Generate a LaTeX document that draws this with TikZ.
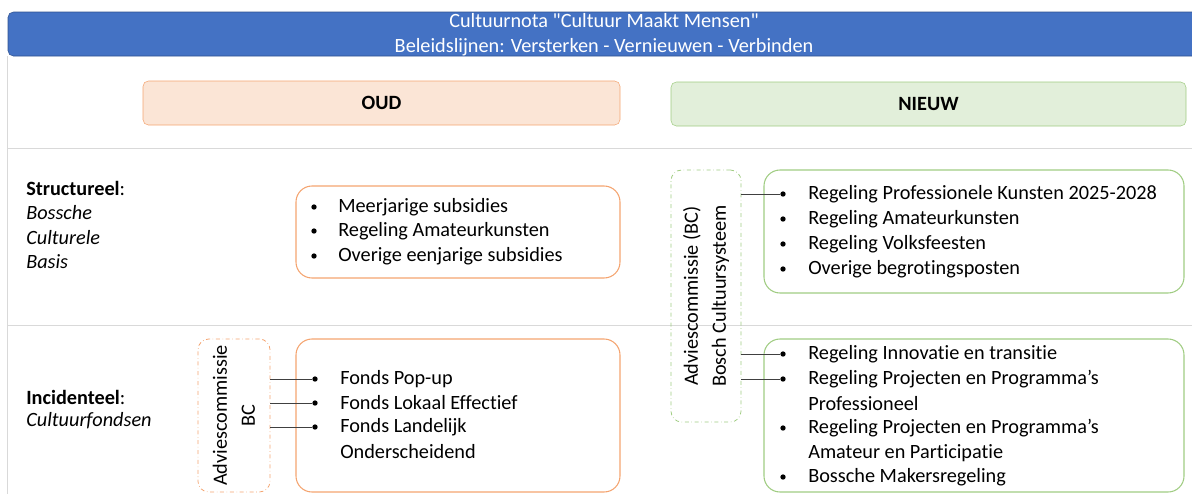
\documentclass[tikz,border=0pt]{standalone}
\usepackage{fontspec}
\setmainfont{Carlito}[Ligatures={TeXOff,NoCommon}]
\usetikzlibrary{fit}
\definecolor{hdrblue}{RGB}{68,114,196}
\definecolor{hdredge}{RGB}{47,82,143}
\definecolor{oudline}{RGB}{244,164,112}
\definecolor{oudfill}{RGB}{251,229,214}
\definecolor{nwline}{RGB}{160,204,130}
\definecolor{nwfill}{RGB}{226,239,218}
\definecolor{rule}{RGB}{217,217,217}
\begin{document}
\begin{tikzpicture}
[x=0.75pt,y=-0.75pt,font=\fontsize{15.2}{18}\selectfont,
 hdr/.style={draw=hdredge,fill=hdrblue,rounded corners=4pt,inner sep=0pt},
 kop/.style={draw,rounded corners=4pt,inner sep=0pt},
 lst/.style={draw,rounded corners=12pt,inner sep=0pt,line width=0.8pt},
 adv/.style={draw,dash dot,rounded corners=8pt,inner sep=0pt,line width=0.6pt},
 dot/.style={circle,fill,inner sep=0pt,minimum size=4pt},
 itm/.style={anchor=west,inner sep=0pt},
 lbl/.style={anchor=west,inner sep=0pt},
 lijn/.style={draw=black!75,line width=0.6pt}]
\clip (0,0) rectangle (1192,494);
% kop
\node[hdr,fit={(8,12) (1200,56)}] (hdr) {};
\node[text=white,align=center,font=\fontsize{15.2}{19}\selectfont] (titel) at (604,35) {Cultuurnota "Cultuur Maakt Mensen"\\Beleidslijnen: Versterken - Vernieuwen - Verbinden};
\draw[rule] (7,56) -- (7,494);
\draw[rule] (7,148) -- (1192,148);
\draw[rule] (7,325) -- (1192,325);
\node[kop,draw=oudline,fill=oudfill,fit={(143,81) (620,125)}] (oud) {};
\node[font=\fontsize{15.2}{18}\selectfont\bfseries] at (oud) {OUD};
\node[kop,draw=nwline,fill=nwfill,fit={(671,82) (1186,126)}] (nieuw) {};
\node[font=\fontsize{15.2}{18}\selectfont\bfseries] at (nieuw) {NIEUW};
% rijen
\node[lbl] (str) at (26,188) {\textbf{Structureel}:};
\node[lbl] (str1) at (26,213) {\textit{Bossche}};
\node[lbl] (str2) at (26,238) {\textit{Culturele}};
\node[lbl] (str3) at (26,262) {\textit{Basis}};
\node[lbl] (inc) at (26,397) {\textbf{Incidenteel}:};
\node[lbl] (inc1) at (26,421) {\textit{Cultuurfondsen}};
% oud structureel
\node[lst,draw=oudline,fit={(296,186) (620,278)}] (os) {};
\node[dot] (os1) at (314,207) {};\node[itm] at (338,207) {Meerjarige subsidies};
\node[dot] (os2) at (314,231) {};\node[itm] at (338,231) {Regeling Amateurkunsten};
\node[dot] (os3) at (314,256) {};\node[itm] at (338,256) {Overige eenjarige subsidies};
% oud incidenteel
\node[adv,draw=oudline,fit={(198,339) (270,492)}] (advo) {};
\node[rotate=90,align=center,font=\fontsize{15.2}{21}\selectfont] at (advo) {Adviescommissie\\BC};
\node[lst,draw=oudline,fit={(296,339) (620,492)}] (oi) {};
\node[dot] (oi1) at (315,379) {};\node[itm] at (340,379) {Fonds Pop-up};
\node[dot] (oi2) at (315,403) {};\node[itm] at (340,403) {Fonds Lokaal Effectief};
\node[dot] (oi3) at (315,427) {};\node[itm] at (340,427) {Fonds Landelijk};
\node[itm] at (340,452) {Onderscheidend};
\draw[lijn] (advo.east |- oi1) -- (oi1);
\draw[lijn] (advo.east |- oi2) -- (oi2);
\draw[lijn] (advo.east |- oi3) -- (oi3);
% nieuw
\node[adv,draw=nwline,fit={(671,170) (741,422)}] (advn) {};
\node[rotate=90,align=center,font=\fontsize{15.2}{21}\selectfont] at (advn) {Adviescommissie (BC)\\Bosch Cultuursysteem};
\node[lst,draw=nwline,fit={(764,170) (1184,293)}] (ns) {};
\node[dot] (ns1) at (783,194) {};\node[itm] at (808,194) {Regeling Professionele Kunsten 2025-2028};
\node[dot] (ns2) at (783,219) {};\node[itm] at (808,219) {Regeling Amateurkunsten};
\node[dot] (ns3) at (783,244) {};\node[itm] at (808,244) {Regeling Volksfeesten};
\node[dot] (ns4) at (783,269) {};\node[itm] at (808,269) {Overige begrotingsposten};
\node[lst,draw=nwline,fit={(764,339) (1184,492)}] (ni) {};
\node[dot] (ni1) at (783,354) {};\node[itm] at (808,354) {Regeling Innovatie en transitie};
\node[dot] (ni2) at (783,379) {};\node[itm] at (808,379) {Regeling Projecten en Programma’s};
\node[itm] at (808,404) {Professioneel};
\node[dot] (ni3) at (783,428) {};\node[itm] at (808,428) {Regeling Projecten en Programma’s};
\node[itm] at (808,453) {Amateur en Participatie};
\node[dot] (ni4) at (783,477) {};\node[itm] at (808,477) {Bossche Makersregeling};
\draw[lijn] (advn.east |- ns1) -- (ns1);
\draw[lijn] (advn.east |- ni1) -- (ni1);
\draw[lijn] (advn.east |- ni2) -- (ni2);
\end{tikzpicture}
\end{document}
